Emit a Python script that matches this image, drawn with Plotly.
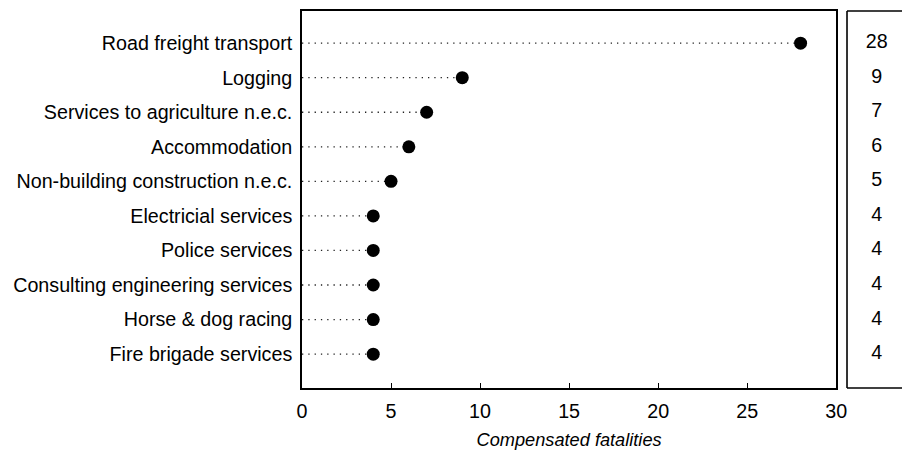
import plotly.graph_objects as go

categories = [
    "Road freight transport",
    "Logging",
    "Services to agriculture n.e.c.",
    "Accommodation",
    "Non-building construction n.e.c.",
    "Electricial services",
    "Police services",
    "Consulting engineering services",
    "Horse & dog racing",
    "Fire brigade services",
]
fatalities = [28, 9, 7, 6, 5, 4, 4, 4, 4, 4]
x_ticks = [0, 5, 10, 15, 20, 25, 30]

FONT = "Liberation Sans, Arial, sans-serif"
rows = list(range(len(categories)))

# dotted leader lines from 0 to each value
lx, ly = [], []
for r, v in zip(rows, fatalities):
    lx += [0, v, None]
    ly += [r, r, None]

fig = go.Figure()
fig.add_trace(go.Scatter(
    x=lx, y=ly, mode="lines",
    line=dict(color="#222222", width=1.3, dash="1.3px,5px"),
    hoverinfo="skip", showlegend=False,
))
fig.add_trace(go.Scatter(
    x=fatalities, y=rows, mode="markers",
    marker=dict(color="#000000", size=13),
    showlegend=False,
))
fig.add_trace(go.Scatter(
    x=[0.54] * len(rows), y=rows, mode="text",
    text=[str(v) for v in fatalities],
    textfont=dict(family=FONT, size=19.7, color="#000000"),
    xaxis="x2", yaxis="y", showlegend=False, hoverinfo="skip",
))

# page body has an 8px margin, so the figure is offset by 8px
OFF = 8
W, H = 913 - OFF, 452 - OFF
L, R, T = 302 - OFF, 0, 11 - OFF
B = H - (388 - OFF)
pw = W - L - R
main_end = (846 - 302) / pw
side_start = (857 - 302) / pw

fig.update_layout(
    width=W, height=H,
    margin=dict(l=L, r=R, t=T, b=B, pad=0),
    paper_bgcolor="white", plot_bgcolor="white",
    font=dict(family=FONT, size=19.7, color="#000000"),
    xaxis=dict(
        domain=[0, main_end], range=[0, 30],
        tickvals=x_ticks, ticktext=[str(t) for t in x_ticks],
        ticks="inside", ticklen=5, tickwidth=1.2, tickcolor="#000",
        showline=True, mirror=True, linecolor="#000", linewidth=1.6,
        showgrid=False, zeroline=False,
        ticklabelstandoff=5,
        title=dict(text="<i>Compensated fatalities</i>", font=dict(size=18.2), standoff=12),
        layer="above traces",
    ),
    xaxis2=dict(
        domain=[side_start, 1], range=[0, 1], anchor="y",
        showticklabels=False, showgrid=False, zeroline=False, showline=False, ticks="",
    ),
    yaxis=dict(
        range=[9.98, -0.93],
        tickvals=rows, ticktext=categories,
        ticks="", showgrid=False, zeroline=False,
        showline=True, mirror=True, linecolor="#000", linewidth=1.6,
        ticklabelstandoff=4,
        layer="above traces",
    ),
    shapes=[
        dict(type="line", xref="paper", yref="paper", x0=side_start, x1=1.0, y0=1, y1=1,
             line=dict(color="#000", width=1.6)),
        dict(type="line", xref="paper", yref="paper", x0=side_start, x1=1.0, y0=0, y1=0,
             line=dict(color="#000", width=1.6)),
        dict(type="line", xref="paper", yref="paper", x0=side_start, x1=side_start, y0=0, y1=1,
             line=dict(color="#000", width=1.6)),
    ],
)

fig.write_html("out.html")
